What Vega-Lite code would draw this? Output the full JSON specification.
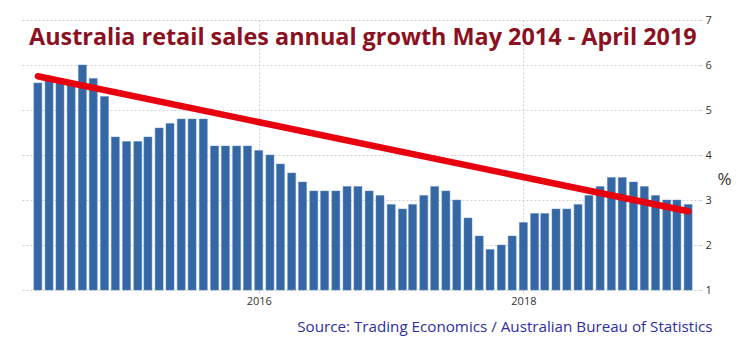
{
  "$schema": "https://vega.github.io/schema/vega-lite/v6.json",
  "autosize": "none",
  "width": 678,
  "height": 270,
  "padding": {"left": 22, "top": 20, "right": 48, "bottom": 58},
  "background": "white",
  "config": {"view": {"stroke": null}, "font": "Open Sans"},
  "title": {
    "text": "Australia retail sales annual growth May 2014 - April 2019",
    "anchor": "start",
    "frame": "group",
    "orient": "top",
    "offset": -36,
    "dx": 7,
    "font": "Open Sans",
    "fontSize": 23.4,
    "fontWeight": "bold",
    "color": "#8b1022"
  },
  "datasets": {
    "sales": [
      {"month": "2014-05-01", "growth": 5.6},
      {"month": "2014-06-01", "growth": 5.7},
      {"month": "2014-07-01", "growth": 5.7},
      {"month": "2014-08-01", "growth": 5.6},
      {"month": "2014-09-01", "growth": 6.0},
      {"month": "2014-10-01", "growth": 5.7},
      {"month": "2014-11-01", "growth": 5.3},
      {"month": "2014-12-01", "growth": 4.4},
      {"month": "2015-01-01", "growth": 4.3},
      {"month": "2015-02-01", "growth": 4.3},
      {"month": "2015-03-01", "growth": 4.4},
      {"month": "2015-04-01", "growth": 4.6},
      {"month": "2015-05-01", "growth": 4.7},
      {"month": "2015-06-01", "growth": 4.8},
      {"month": "2015-07-01", "growth": 4.8},
      {"month": "2015-08-01", "growth": 4.8},
      {"month": "2015-09-01", "growth": 4.2},
      {"month": "2015-10-01", "growth": 4.2},
      {"month": "2015-11-01", "growth": 4.2},
      {"month": "2015-12-01", "growth": 4.2},
      {"month": "2016-01-01", "growth": 4.1},
      {"month": "2016-02-01", "growth": 4.0},
      {"month": "2016-03-01", "growth": 3.8},
      {"month": "2016-04-01", "growth": 3.6},
      {"month": "2016-05-01", "growth": 3.4},
      {"month": "2016-06-01", "growth": 3.2},
      {"month": "2016-07-01", "growth": 3.2},
      {"month": "2016-08-01", "growth": 3.2},
      {"month": "2016-09-01", "growth": 3.3},
      {"month": "2016-10-01", "growth": 3.3},
      {"month": "2016-11-01", "growth": 3.2},
      {"month": "2016-12-01", "growth": 3.1},
      {"month": "2017-01-01", "growth": 2.9},
      {"month": "2017-02-01", "growth": 2.8},
      {"month": "2017-03-01", "growth": 2.9},
      {"month": "2017-04-01", "growth": 3.1},
      {"month": "2017-05-01", "growth": 3.3},
      {"month": "2017-06-01", "growth": 3.2},
      {"month": "2017-07-01", "growth": 3.0},
      {"month": "2017-08-01", "growth": 2.6},
      {"month": "2017-09-01", "growth": 2.2},
      {"month": "2017-10-01", "growth": 1.9},
      {"month": "2017-11-01", "growth": 2.0},
      {"month": "2017-12-01", "growth": 2.2},
      {"month": "2018-01-01", "growth": 2.5},
      {"month": "2018-02-01", "growth": 2.7},
      {"month": "2018-03-01", "growth": 2.7},
      {"month": "2018-04-01", "growth": 2.8},
      {"month": "2018-05-01", "growth": 2.8},
      {"month": "2018-06-01", "growth": 2.9},
      {"month": "2018-07-01", "growth": 3.1},
      {"month": "2018-08-01", "growth": 3.3},
      {"month": "2018-09-01", "growth": 3.5},
      {"month": "2018-10-01", "growth": 3.5},
      {"month": "2018-11-01", "growth": 3.4},
      {"month": "2018-12-01", "growth": 3.3},
      {"month": "2019-01-01", "growth": 3.1},
      {"month": "2019-02-01", "growth": 3.0},
      {"month": "2019-03-01", "growth": 3.0},
      {"month": "2019-04-01", "growth": 2.9}
    ],
    "trend": [
      {"month": "2014-05-01", "growth": 5.75},
      {"month": "2019-04-01", "growth": 2.75}
    ]
  },
  "layer": [
    {
      "data": {"name": "sales"},
      "mark": {"type": "bar", "size": 8, "color": "#3567a5", "stroke": "#5a8ac0", "strokeWidth": 0.5},
      "encoding": {
        "x": {
          "field": "month",
          "type": "temporal",
          "scale": {"domain": ["2014-04-01", "2019-04-20"]},
          "axis": {
            "values": ["2016-01-01", "2018-01-01"],
            "format": "%Y",
            "grid": true,
            "gridColor": "#d0d0d0",
            "gridDash": [2, 2],
            "domain": false,
            "tickColor": "#d0d0d0",
            "tickSize": 3,
            "labelFont": "Open Sans",
            "labelFontSize": 11,
            "labelColor": "#333333",
            "labelPadding": 2,
            "title": "Source: Trading Economics / Australian Bureau of Statistics",
            "titleFont": "Open Sans",
            "titleFontSize": 15.2,
            "titleFontWeight": "normal",
            "titleColor": "#2e2e9e",
            "titleAnchor": "end",
            "titleAlign": "right",
            "titleX": 690,
            "titleY": 29
          }
        },
        "y": {
          "field": "growth",
          "type": "quantitative",
          "scale": {"domain": [1, 7], "zero": false, "nice": false},
          "axis": {
            "orient": "right",
            "values": [1, 2, 3, 4, 5, 6, 7],
            "grid": true,
            "gridColor": "#d0d0d0",
            "gridDash": [2, 2],
            "domain": false,
            "tickColor": "#d0d0d0",
            "tickDash": [2, 2],
            "tickSize": 3,
            "labelFont": "Open Sans",
            "labelFontSize": 11,
            "labelColor": "#333333",
            "labelPadding": 2,
            "title": "%",
            "titleAngle": 0,
            "titleFont": "Open Sans",
            "titleFontSize": 17,
            "titleFontWeight": "normal",
            "titleColor": "#333333",
            "titleX": 24,
            "titleY": 159,
            "titleAlign": "center",
            "titleBaseline": "middle"
          }
        },
        "y2": {"datum": 1}
      }
    },
    {
      "data": {"name": "trend"},
      "mark": {"type": "line", "color": "#e8000e", "strokeWidth": 6.5, "strokeCap": "round"},
      "encoding": {
        "x": {"field": "month", "type": "temporal"},
        "y": {"field": "growth", "type": "quantitative"}
      }
    }
  ]
}
